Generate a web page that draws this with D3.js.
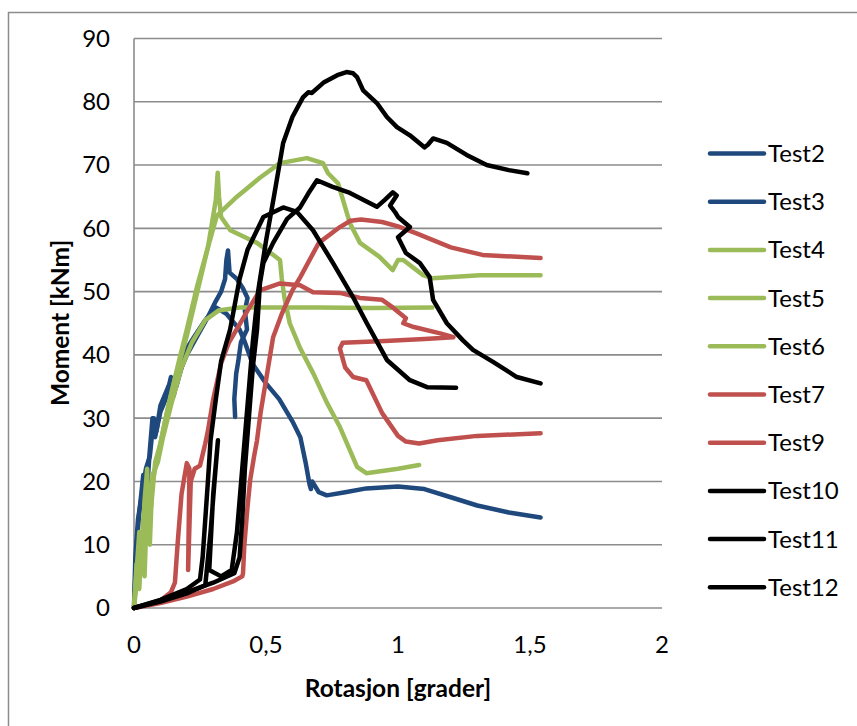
<!DOCTYPE html>
<html>
<head>
<meta charset="utf-8">
<script src="https://cdn.jsdelivr.net/npm/d3@7"></script>
<style>
  body { margin: 0; background: #fff; }
  text { font-family: Lato, "Liberation Sans", sans-serif; fill: #000; }
</style>
</head>
<body>
<div id="chart"></div>
<script>
// rotation [grader] vs moment [kNm]
var test2 = [[0,0],[0.005,8],[0.015,14],[0.03,18],[0.045,22],[0.06,24],[0.07,28],[0.075,30],[0.08,27],[0.1,31],[0.12,33],[0.14,36.5],[0.16,35],[0.18,38],[0.2,41],[0.23,43],[0.27,45.5],[0.31,47.5],[0.35,46.5],[0.4,44],[0.42,42],[0.45,38.5],[0.5,35.5],[0.55,33],[0.6,29.5],[0.63,27],[0.65,23],[0.665,19.5],[0.67,18.8],[0.675,20],[0.7,18.3],[0.73,17.8],[0.8,18.3],[0.88,18.9],[1.0,19.2],[1.1,18.8],[1.2,17.5],[1.3,16.2],[1.42,15.1],[1.54,14.3]];
var test3 = [[0,0],[0.01,10],[0.02,15],[0.035,21],[0.05,19],[0.06,25],[0.07,30],[0.085,28],[0.1,32],[0.13,35],[0.15,33.5],[0.17,37],[0.2,40],[0.24,43],[0.28,46],[0.31,48.5],[0.33,50],[0.345,52],[0.35,55],[0.356,56.5],[0.362,53],[0.39,52],[0.413,50.5],[0.43,49],[0.42,47],[0.428,44],[0.405,42],[0.395,39],[0.387,37],[0.38,33],[0.383,30.2]];
var test4 = [[0,0],[0.01,4],[0.02,10],[0.025,6],[0.035,14],[0.05,20],[0.065,16],[0.08,23],[0.1,26],[0.13,32],[0.17,39],[0.2,44],[0.24,51],[0.28,57],[0.314,62],[0.39,65],[0.477,68],[0.553,70.3],[0.655,71.1],[0.716,70.3],[0.735,68.7],[0.773,67.1],[0.818,60.8],[0.856,57.7],[0.93,55.5],[0.98,53.4],[1.0,55],[1.02,55],[1.095,52.6],[1.13,52.1],[1.31,52.6],[1.54,52.6]];
var test5 = [[0,0],[0.01,6],[0.02,12],[0.03,8],[0.04,17],[0.05,22],[0.055,12],[0.07,20],[0.09,24],[0.12,30],[0.16,37],[0.2,43],[0.24,50],[0.28,57],[0.3,62],[0.31,64.5],[0.317,68.8],[0.322,65],[0.33,61.8],[0.365,59.7],[0.466,57.7],[0.553,55],[0.56,52],[0.57,49],[0.59,45],[0.63,41],[0.68,37],[0.73,32.5],[0.78,28.6],[0.845,22.3],[0.88,21.3],[1.0,22],[1.08,22.6]];
var test6 = [[0,0],[0.01,7],[0.02,3],[0.03,12],[0.04,5],[0.05,17],[0.06,10],[0.07,21],[0.09,23],[0.11,27],[0.14,32],[0.18,38],[0.22,42],[0.27,45.5],[0.32,47],[0.4,47.5],[0.5,47.5],[0.7,47.5],[0.9,47.4],[1.13,47.5]];
var test7 = [[0,0],[0.05,0.5],[0.1,1.2],[0.14,2.5],[0.155,4],[0.165,10],[0.18,18],[0.2,22.9],[0.21,22],[0.205,6],[0.215,20],[0.23,22],[0.25,22.5],[0.27,26],[0.28,28],[0.3,33],[0.33,38.7],[0.36,42],[0.394,44.4],[0.43,47],[0.477,50.2],[0.553,51.3],[0.629,51],[0.678,49.9],[0.78,49.8],[0.856,49],[0.94,48.7],[0.98,47.5],[1.03,45.8],[1.02,45],[1.06,44.4],[1.16,43.4],[1.21,42.8],[1.1,42.5],[0.95,42.2],[0.79,41.9],[0.78,41],[0.8,38],[0.83,36.5],[0.88,36],[0.94,30.8],[1.0,27.2],[1.03,26.3],[1.08,26],[1.15,26.5],[1.3,27.2],[1.54,27.6]];
var test9 = [[0,0],[0.1,0.8],[0.2,1.8],[0.3,3],[0.38,4.3],[0.41,5],[0.413,5.5],[0.418,10],[0.43,16],[0.44,20.2],[0.455,24],[0.466,26.5],[0.48,31],[0.504,37],[0.527,42.8],[0.56,46.5],[0.6,50.2],[0.63,52.3],[0.7,57.7],[0.78,60.2],[0.82,61.2],[0.86,61.4],[0.94,61],[1.0,60.3],[1.07,59.2],[1.2,57],[1.32,55.8],[1.54,55.3]];
var test10 = [[0,0],[0.1,1.3],[0.2,3],[0.25,4.5],[0.26,8],[0.27,14],[0.28,20],[0.29,26.5],[0.31,33],[0.33,39],[0.364,44],[0.4,52],[0.43,56.6],[0.49,61.8],[0.565,63.3],[0.617,62.6],[0.678,59.7],[0.754,54.5],[0.83,49.1],[0.882,45],[0.958,39.2],[1.045,36],[1.11,34.9],[1.22,34.8]];
var test11 = [[0,0],[0.1,1],[0.2,2.3],[0.27,3.6],[0.29,12],[0.305,20],[0.318,26.5],[0.3,18],[0.285,6],[0.33,5],[0.37,6],[0.39,12],[0.41,22],[0.43,32],[0.45,42],[0.47,50],[0.5,58],[0.53,65],[0.565,73.5],[0.6,77.6],[0.64,80.7],[0.66,81.5],[0.674,81.4],[0.72,83.1],[0.77,84.2],[0.805,84.7],[0.83,84.5],[0.845,83.9],[0.868,81.8],[0.92,79.8],[0.958,77.6],[0.996,76],[1.045,74.7],[1.1,72.8],[1.113,73.2],[1.133,74.2],[1.185,73.5],[1.26,71.6],[1.336,70],[1.42,69.2],[1.49,68.7]];
var test12 = [[0,0],[0.1,1.2],[0.2,2.5],[0.3,4],[0.38,5.5],[0.4,8],[0.41,14],[0.42,22],[0.435,30],[0.45,38],[0.466,44],[0.477,51.3],[0.49,54.5],[0.527,57.7],[0.58,61.5],[0.629,63.3],[0.66,65.5],[0.693,67.6],[0.75,66.6],[0.818,65.6],[0.92,63.4],[0.95,64.5],[0.98,65.7],[0.995,65.2],[0.97,63.6],[0.99,62.5],[1.0,61.8],[1.045,60.2],[1.0,58.6],[1.03,56.1],[1.083,54.5],[1.12,52.3],[1.133,48.7],[1.185,45],[1.246,42.3],[1.284,40.8],[1.36,38.9],[1.45,36.5],[1.54,35.5]];

var names = ["Test2","Test3","Test4","Test5","Test6","Test7","Test9","Test10","Test11","Test12"];
var colors = ["#1f497d","#1f497d","#9bbb59","#9bbb59","#9bbb59","#c0504d","#c0504d","#000000","#000000","#000000"];
var xTicks = [0, 0.5, 1, 1.5, 2];
var yTicks = [0,10,20,30,40,50,60,70,80,90];

var series = [test2, test3, test4, test5, test6, test7, test9, test10, test11, test12];

var width = 857, height = 726;
var svg = d3.select("#chart").append("svg").attr("width", width).attr("height", height);

// outer chart border
svg.append("rect").attr("x", 8.5).attr("y", 12.5).attr("width", 870).attr("height", 740)
   .style("fill", "none").style("stroke", "#8c8c8c").style("stroke-width", 1.5);

var x = d3.scaleLinear().domain([0, 2]).range([134, 662]);
var y = d3.scaleLinear().domain([0, 90]).range([608, 38.5]);

// grid
svg.append("g").selectAll("line").data(yTicks.slice(1)).enter().append("line")
   .attr("x1", x(0)).attr("x2", x(2))
   .attr("y1", function(d){ return y(d); }).attr("y2", function(d){ return y(d); })
   .style("stroke", "#8c8c8c").style("stroke-width", 1.6);

// axes lines
svg.append("line").attr("x1", x(0)).attr("x2", x(0)).attr("y1", y(0)).attr("y2", y(90))
   .style("stroke", "#8c8c8c").style("stroke-width", 1.6);
svg.append("line").attr("x1", x(0)).attr("x2", x(2)).attr("y1", y(0)).attr("y2", y(0))
   .style("stroke", "#8c8c8c").style("stroke-width", 1.6);

var fmt = function(d){ return String(d).replace(".", ","); };

svg.append("g").selectAll("text").data(yTicks).enter().append("text")
   .attr("x", 110).attr("y", function(d){ return y(d); })
   .attr("dy", "0.35em").attr("text-anchor", "end")
   .style("font-size", "24px").text(fmt);

svg.append("g").selectAll("text").data(xTicks).enter().append("text")
   .attr("x", function(d){ return x(d); }).attr("y", 645)
   .attr("dy", "0.35em").attr("text-anchor", "middle")
   .style("font-size", "24px").text(fmt);

svg.append("text").attr("x", 398).attr("y", 688).attr("dy", "0.35em")
   .attr("text-anchor", "middle").style("font-size", "24.5px").style("font-weight", "bold")
   .text("Rotasjon [grader]");

svg.append("text").attr("transform", "translate(60,323) rotate(-90)").attr("dy", "0.35em")
   .attr("text-anchor", "middle").style("font-size", "24.5px").style("font-weight", "bold")
   .text("Moment [kNm]");

var line = d3.line()
   .x(function(d){ return x(d[0]); })
   .y(function(d){ return y(d[1]); });

svg.append("g").selectAll("path").data(series).enter().append("path")
   .attr("d", line)
   .style("fill", "none")
   .style("stroke", function(d, i){ return colors[i]; })
   .style("stroke-width", 4.5)
   .style("stroke-linejoin", "round")
   .style("stroke-linecap", "round");

// legend
var legend = svg.append("g").selectAll("g").data(names).enter().append("g")
   .attr("transform", function(d, i){ return "translate(0," + (153.5 + i * 48.2) + ")"; });
legend.append("line").attr("x1", 710).attr("x2", 764).attr("y1", 0).attr("y2", 0)
   .style("stroke", function(d, i){ return colors[i]; })
   .style("stroke-width", 4.5).style("stroke-linecap", "round");
legend.append("text").attr("x", 768).attr("dy", "0.35em")
   .style("font-size", "24px").text(function(d){ return d; });
</script>
</body>
</html>
